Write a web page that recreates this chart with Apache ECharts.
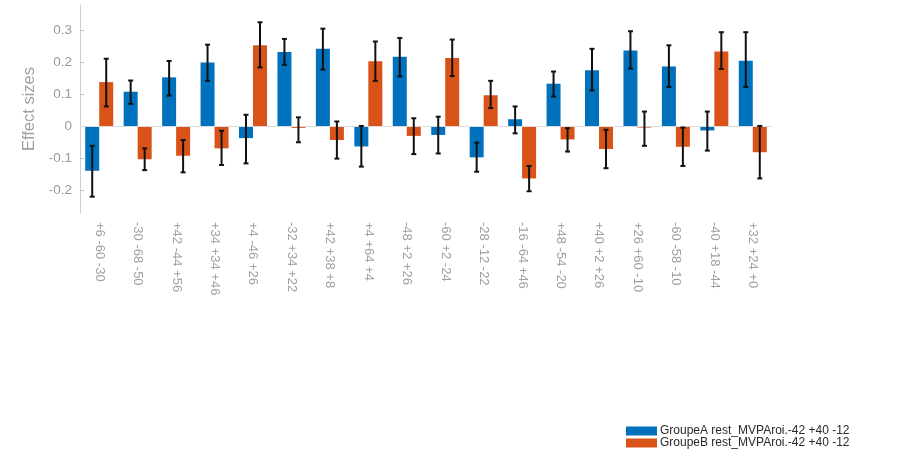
<!doctype html>
<html lang="en">
<head>
    <meta charset="utf-8">
    <title>Effect sizes</title>
    <script src="https://cdn.jsdelivr.net/npm/echarts@6/dist/echarts.min.js"></script>
    <style>
        html, body { margin: 0; padding: 0; background: #fff; }
    </style>
</head>
<body>
    <div id="main" style="width: 897px;height:462px;"></div>
    <script type="text/javascript">
        // roi coordinates along the x axis
        var categories = ["+6 -60 -30", "-30 -68 -50", "+42 -44 +56", "+34 +34 +46", "+4 -46 +26",
            "-32 +34 +22", "+42 +38 +8", "+4 +64 +4", "-48 +2 +26", "-60 +2 -24", "-28 -12 -22",
            "-16 -64 +46", "+48 -54 -20", "+40 +2 +26", "+26 +60 -10", "-60 -58 -10", "-40 +18 -44",
            "+32 +24 +0"];

        var seriesNames = ["GroupeA rest_MVPAroi.-42 +40 -12", "GroupeB rest_MVPAroi.-42 +40 -12"];

        // group A (blue)
        var groupA = [-0.138, 0.109, 0.154, 0.200, -0.036, 0.233, 0.243, -0.062, 0.218, -0.026,
            -0.096, 0.023, 0.134, 0.176, 0.238, 0.188, -0.012, 0.206];
        var groupALow = [-0.219, 0.071, 0.097, 0.143, -0.115, 0.193, 0.178, -0.125, 0.157, -0.084,
            -0.141, -0.021, 0.094, 0.113, 0.181, 0.124, -0.075, 0.124];
        var groupAHigh = [-0.060, 0.144, 0.205, 0.256, 0.037, 0.274, 0.306, 0.002, 0.277, 0.031,
            -0.050, 0.063, 0.172, 0.243, 0.298, 0.254, 0.047, 0.295];

        // group B (orange)
        var groupB = [0.139, -0.102, -0.091, -0.068, 0.254, -0.004, -0.042, 0.204, -0.029, 0.214,
            0.098, -0.162, -0.040, -0.070, -0.003, -0.063, 0.235, -0.080];
        var groupBLow = [0.063, -0.136, -0.143, -0.120, 0.185, -0.049, -0.100, 0.143, -0.086, 0.158,
            0.058, -0.202, -0.078, -0.130, -0.060, -0.123, 0.180, -0.162];
        var groupBHigh = [0.212, -0.068, -0.042, -0.013, 0.326, 0.029, 0.016, 0.266, 0.026, 0.272,
            0.143, -0.123, -0.005, -0.010, 0.047, -0.003, 0.295, 0.002];

        var yTicks = [-0.2, -0.1, 0, 0.1, 0.2, 0.3];

        var BAR_W = 14;
        var FONT = "'Liberation Sans', Arial, sans-serif";

        function errorSeries(low, high, side) {
            var data = low.map(function (lo, i) {
                return [i, lo, high[i]];
            });
            return {
                type: 'custom',
                silent: true,
                z: 5,
                encode: { x: 0, y: [1, 2] },
                data: data,
                renderItem: function (params, api) {
                    var i = api.value(0);
                    var p1 = api.coord([i, api.value(1)]);
                    var p2 = api.coord([i, api.value(2)]);
                    var x = p1[0] + side * BAR_W / 2;
                    var cap = 2.5;
                    var style = { stroke: '#111', lineWidth: 2 };
                    return {
                        type: 'group',
                        children: [
                            { type: 'line', shape: { x1: x, y1: p1[1], x2: x, y2: p2[1] }, style: style },
                            { type: 'line', shape: { x1: x - cap, y1: p1[1], x2: x + cap, y2: p1[1] }, style: style },
                            { type: 'line', shape: { x1: x - cap, y1: p2[1], x2: x + cap, y2: p2[1] }, style: style }
                        ]
                    };
                }
            };
        }

        var myChart = echarts.init(document.getElementById('main'));

        var option = {
            animation: false,
            textStyle: { fontFamily: FONT },
            grid: { left: 80, top: 5, width: 692, height: 208, containLabel: false },
            legend: {
                data: seriesNames,
                orient: 'vertical',
                left: 626,
                top: 425,
                height: 32,
                padding: 0,
                itemWidth: 31,
                itemHeight: 9,
                itemGap: 0,
                icon: 'rect',
                textStyle: { fontSize: 12, color: '#2a2a2a', lineHeight: 10, fontFamily: FONT, padding: [0, 0, 0, -2] }
            },
            xAxis: {
                type: 'category',
                data: categories,
                axisLine: { show: false, onZero: false },
                axisTick: { show: false },
                axisLabel: {
                    rotate: -90,
                    margin: 9,
                    interval: 0,
                    color: '#a0a0a0',
                    fontSize: 13,
                    fontFamily: FONT
                }
            },
            yAxis: {
                type: 'value',
                min: -0.27,
                max: 0.38,
                name: 'Effect sizes',
                nameLocation: 'middle',
                nameRotate: 90,
                nameGap: 32,
                nameTextStyle: { color: '#a0a0a0', fontSize: 16.5, fontFamily: FONT },
                splitLine: { show: false },
                axisLine: { show: true, lineStyle: { color: '#cfcfcf', width: 1 } },
                axisTick: {
                    show: true,
                    inside: true,
                    length: 4,
                    customValues: yTicks,
                    lineStyle: { color: '#bdbdbd' }
                },
                axisLabel: {
                    customValues: yTicks,
                    margin: 8,
                    color: '#9a9a9a',
                    fontSize: 13.5,
                    fontFamily: FONT,
                    formatter: function (v) {
                        return String(Math.round(v * 10) / 10);
                    }
                }
            },
            series: [
                {
                    name: seriesNames[0],
                    type: 'bar',
                    data: groupA,
                    barWidth: BAR_W,
                    barGap: '0%',
                    itemStyle: { color: '#0072BD' },
                    markLine: {
                        silent: true,
                        symbol: 'none',
                        label: { show: false },
                        lineStyle: { color: '#dcdcdc', type: 'solid', width: 1 },
                        data: [{ yAxis: 0 }]
                    }
                },
                {
                    name: seriesNames[1],
                    type: 'bar',
                    data: groupB,
                    barWidth: BAR_W,
                    barGap: '0%',
                    itemStyle: { color: '#D95319' }
                },
                errorSeries(groupALow, groupAHigh, -1),
                errorSeries(groupBLow, groupBHigh, 1)
            ]
        };

        myChart.setOption(option);
    </script>
</body>
</html>
